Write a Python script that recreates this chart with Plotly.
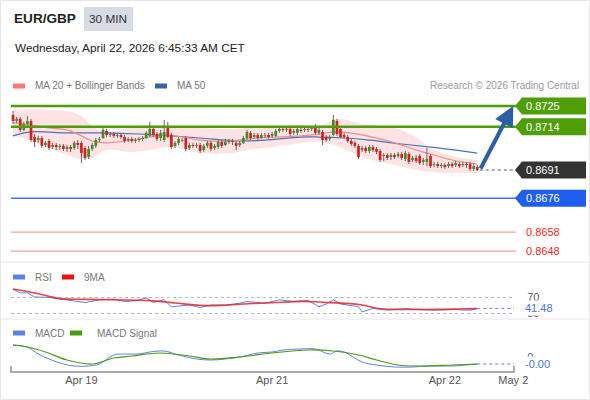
import plotly.graph_objects as go

W, H = 590, 400
FONT = "Liberation Sans, Arial, sans-serif"


def px(x):
    return x / W


def py(y):
    return 1 - y / H


# ---------------- data: 30-min candles (index 0 .. 129) ----------------
opens = [0.87202, 0.87170, 0.87181, 0.87123, 0.87154, 0.87170, 0.87085, 0.87069, 0.87080, 0.87043,
         0.87064, 0.87032, 0.87043, 0.87032, 0.87038, 0.87022, 0.87032, 0.87027, 0.87054, 0.87054,
         0.87027, 0.86979, 0.87022, 0.87038, 0.87069, 0.87080, 0.87117, 0.87096, 0.87101, 0.87091,
         0.87096, 0.87085, 0.87069, 0.87075, 0.87064, 0.87069, 0.87075, 0.87080, 0.87091, 0.87128,
         0.87101, 0.87080, 0.87069, 0.87133, 0.87096, 0.87038, 0.87054, 0.87069, 0.87080, 0.87027,
         0.87043, 0.87038, 0.87043, 0.87016, 0.87038, 0.87054, 0.87027, 0.87032, 0.87059, 0.87043,
         0.87059, 0.87064, 0.87054, 0.87043, 0.87054, 0.87080, 0.87107, 0.87085, 0.87096, 0.87080,
         0.87096, 0.87096, 0.87091, 0.87091, 0.87117, 0.87128, 0.87123, 0.87128, 0.87107, 0.87107,
         0.87123, 0.87123, 0.87128, 0.87128, 0.87138, 0.87107, 0.87112, 0.87085, 0.87075, 0.87096,
         0.87170, 0.87128, 0.87096, 0.87085, 0.87064, 0.87054, 0.87038, 0.87016, 0.87027, 0.87011,
         0.87032, 0.87022, 0.87011, 0.86985, 0.86990, 0.86979, 0.86990, 0.86985, 0.86995, 0.86969,
         0.86995, 0.86963, 0.86974, 0.86985, 0.86953, 0.86953, 0.86985, 0.86937, 0.86942, 0.86931,
         0.86937, 0.86931, 0.86942, 0.86937, 0.86942, 0.86937, 0.86942, 0.86942, 0.86916, 0.86926]
highs = [0.87223, 0.87192, 0.87192, 0.87165, 0.87197, 0.87181, 0.87101, 0.87091, 0.87091, 0.87064,
         0.87075, 0.87054, 0.87054, 0.87048, 0.87048, 0.87043, 0.87043, 0.87064, 0.87069, 0.87064,
         0.87038, 0.87038, 0.87054, 0.87080, 0.87085, 0.87133, 0.87128, 0.87112, 0.87112, 0.87107,
         0.87107, 0.87096, 0.87085, 0.87085, 0.87080, 0.87085, 0.87091, 0.87117, 0.87165, 0.87138,
         0.87112, 0.87123, 0.87176, 0.87165, 0.87107, 0.87064, 0.87085, 0.87080, 0.87091, 0.87054,
         0.87054, 0.87054, 0.87054, 0.87048, 0.87064, 0.87064, 0.87048, 0.87069, 0.87069, 0.87075,
         0.87075, 0.87075, 0.87064, 0.87064, 0.87091, 0.87123, 0.87117, 0.87107, 0.87107, 0.87107,
         0.87107, 0.87107, 0.87112, 0.87128, 0.87138, 0.87133, 0.87138, 0.87138, 0.87128, 0.87138,
         0.87133, 0.87138, 0.87138, 0.87144, 0.87154, 0.87133, 0.87123, 0.87096, 0.87096, 0.87202,
         0.87181, 0.87144, 0.87107, 0.87096, 0.87075, 0.87064, 0.87048, 0.87038, 0.87038, 0.87043,
         0.87043, 0.87032, 0.87022, 0.87000, 0.87000, 0.87000, 0.87000, 0.87006, 0.87006, 0.87011,
         0.87006, 0.86985, 0.86990, 0.86995, 0.86974, 0.87027, 0.86995, 0.86953, 0.86953, 0.86947,
         0.86947, 0.86953, 0.86953, 0.86958, 0.86953, 0.86953, 0.86953, 0.86953, 0.86942, 0.86937]
lows = [0.87154, 0.87160, 0.87112, 0.87117, 0.87144, 0.87059, 0.87032, 0.87054, 0.87027, 0.87032,
        0.87016, 0.87022, 0.87016, 0.87016, 0.87011, 0.87006, 0.87006, 0.87016, 0.87022, 0.86947,
        0.86963, 0.86969, 0.87011, 0.87027, 0.87059, 0.87075, 0.87085, 0.87085, 0.87080, 0.87080,
        0.87075, 0.87054, 0.87059, 0.87054, 0.87054, 0.87059, 0.87064, 0.87075, 0.87085, 0.87085,
        0.87064, 0.87064, 0.87059, 0.87080, 0.87022, 0.87027, 0.87043, 0.87059, 0.87011, 0.87016,
        0.87027, 0.87027, 0.87000, 0.87006, 0.87027, 0.87011, 0.87016, 0.87022, 0.87027, 0.87038,
        0.87048, 0.87043, 0.87016, 0.87032, 0.87048, 0.87069, 0.87069, 0.87075, 0.87064, 0.87075,
        0.87080, 0.87075, 0.87080, 0.87085, 0.87107, 0.87112, 0.87112, 0.87091, 0.87096, 0.87096,
        0.87107, 0.87112, 0.87112, 0.87117, 0.87101, 0.87096, 0.87043, 0.87059, 0.87064, 0.87091,
        0.87091, 0.87080, 0.87075, 0.87054, 0.87038, 0.87027, 0.86969, 0.87006, 0.87000, 0.87000,
        0.87006, 0.86995, 0.86953, 0.86958, 0.86963, 0.86963, 0.86969, 0.86974, 0.86963, 0.86958,
        0.86942, 0.86953, 0.86947, 0.86937, 0.86937, 0.86931, 0.86921, 0.86926, 0.86921, 0.86921,
        0.86916, 0.86921, 0.86921, 0.86926, 0.86921, 0.86926, 0.86921, 0.86905, 0.86905, 0.86905]
closes = [0.87170, 0.87181, 0.87123, 0.87154, 0.87170, 0.87069, 0.87059, 0.87080, 0.87038, 0.87054,
          0.87027, 0.87043, 0.87032, 0.87038, 0.87022, 0.87032, 0.87022, 0.87054, 0.87043, 0.87000,
          0.86974, 0.87022, 0.87043, 0.87069, 0.87075, 0.87123, 0.87096, 0.87101, 0.87091, 0.87096,
          0.87085, 0.87064, 0.87075, 0.87064, 0.87069, 0.87075, 0.87080, 0.87107, 0.87128, 0.87096,
          0.87075, 0.87107, 0.87112, 0.87085, 0.87032, 0.87054, 0.87075, 0.87066, 0.87022, 0.87043,
          0.87038, 0.87043, 0.87011, 0.87038, 0.87054, 0.87022, 0.87038, 0.87059, 0.87038, 0.87059,
          0.87064, 0.87059, 0.87038, 0.87054, 0.87080, 0.87112, 0.87080, 0.87096, 0.87080, 0.87096,
          0.87093, 0.87085, 0.87101, 0.87117, 0.87128, 0.87123, 0.87128, 0.87101, 0.87117, 0.87128,
          0.87117, 0.87128, 0.87123, 0.87133, 0.87107, 0.87123, 0.87069, 0.87069, 0.87085, 0.87176,
          0.87101, 0.87085, 0.87085, 0.87064, 0.87048, 0.87038, 0.86979, 0.87027, 0.87011, 0.87032,
          0.87016, 0.87006, 0.86963, 0.86990, 0.86974, 0.86990, 0.86979, 0.86995, 0.86974, 0.87000,
          0.86953, 0.86974, 0.86958, 0.86947, 0.86963, 0.86969, 0.86931, 0.86942, 0.86931, 0.86937,
          0.86926, 0.86942, 0.86931, 0.86947, 0.86931, 0.86942, 0.86937, 0.86916, 0.86931, 0.86910]
idx = list(range(len(closes)))

# moving averages / Bollinger bands, read at sampled candles
band_idx = [0, 5, 10, 15, 19, 22, 26, 33, 38, 43, 47, 52, 61, 65, 72, 80, 85, 90, 97, 106, 112, 116, 122, 129]
ma20 = [0.87160, 0.87149, 0.87133, 0.87123, 0.87091, 0.87064, 0.87054, 0.87069, 0.87085, 0.87096, 0.87085, 0.87069,
        0.87064, 0.87075, 0.87085, 0.87091, 0.87101, 0.87112, 0.87096, 0.87054, 0.87016, 0.86995, 0.86963, 0.86942]
bb_upper = [0.87229, 0.87234, 0.87229, 0.87223, 0.87197, 0.87144, 0.87112, 0.87138, 0.87149, 0.87149, 0.87138, 0.87133,
            0.87128, 0.87133, 0.87138, 0.87149, 0.87144, 0.87181, 0.87154, 0.87133, 0.87085, 0.87027, 0.86985, 0.86963]
bb_lower = [0.87091, 0.87069, 0.87027, 0.86990, 0.86969, 0.86974, 0.87016, 0.87006, 0.87016, 0.87032, 0.87022, 0.87000,
            0.87000, 0.87016, 0.87032, 0.87054, 0.87059, 0.87038, 0.86979, 0.86937, 0.86910, 0.86900, 0.86894, 0.86894]
ma50_idx = [0, 5, 15, 24, 35, 44, 52, 63, 70, 80, 85, 92, 99, 108, 118, 129]
ma50 = [0.87091, 0.87112, 0.87107, 0.87107, 0.87101, 0.87091, 0.87080, 0.87064, 0.87069, 0.87085, 0.87085, 0.87080,
        0.87069, 0.87048, 0.87027, 0.87000]

# RSI + 9MA
rsi_idx = [0, 2, 4, 6, 10, 13, 17, 20, 24, 28, 31, 34, 37, 39, 42, 44, 49, 52, 55, 59, 63, 65, 70, 74, 78, 82, 85, 87,
           89, 91, 96, 97, 100, 104, 109, 112, 117, 122, 127, 129]
rsi = [89.1, 80.4, 80.4, 70.0, 69.1, 65.7, 61.3, 56.1, 63.0, 64.8, 58.7, 60.4, 67.4, 56.1, 63.0, 45.6, 50.0, 43.9, 50.0,
       50.0, 54.3, 58.7, 54.3, 63.0, 58.7, 61.3, 45.6, 52.6, 63.0, 52.6, 45.6, 32.6, 41.3, 37.0, 41.3, 38.7, 37.0, 38.7,
       37.0, 41.48]
rsi9_idx = [0, 5, 10, 13, 20, 28, 38, 45, 52, 58, 63, 70, 75, 80, 84, 88, 93, 97, 101, 106, 111, 118, 124, 129]
rsi9 = [90, 82, 72, 66, 64, 63, 61, 55, 49, 49, 52, 55, 57, 59, 58, 56, 54, 50, 42, 39, 39, 39, 40, 41]
rsi_levels = [70, 30]

# MACD
macd_idx = [0, 4, 7, 10, 14, 17, 21, 24, 28, 31, 35, 38, 42, 46, 51, 55, 59, 63, 68, 72, 75, 80, 84, 88, 90, 92, 97,
            101, 106, 111, 116, 122, 129]
macd = [0.00048, 0.00040, 0.00012, -0.00008, -0.00028, -0.00036, -0.00036, -0.00028, 0.00008, 0.00012, 0.00012,
        0.00020, 0.00024, 0.00008, -0.00008, -0.00012, -0.00008, 0.0, 0.00016, 0.00020, 0.00028, 0.00032, 0.00032,
        0.00012, 0.00024, 0.00020, -0.00020, -0.00032, -0.00040, -0.00040, -0.00036, -0.00036, -0.00028]
sig_idx = [0, 4, 9, 15, 22, 28, 33, 41, 49, 55, 63, 72, 82, 89, 96, 101, 107, 113, 122, 129]
signal = [0.00048, 0.00040, 0.00020, -0.00012, -0.00028, -0.00004, 0.00004, 0.00016, 0.00004, -0.00008, 0.0, 0.00016,
          0.00028, 0.00024, 0.00008, -0.00012, -0.00032, -0.00036, -0.00032, -0.00028]

# key levels
res_levels = [0.8725, 0.8714]
last_price = 0.8691
pivot_level = 0.8676
sup_levels = [0.8658, 0.8648]

# time axis
tick_idx = [19, 72, 120, 139]
tick_text = ["Apr 19", "Apr 21", "Apr 22", "May 2"]
x_range = [-0.56, 139.2]

# ---------------- colours ----------------
C_UP, C_DN, C_WICK = "#3e8e26", "#d81e1e", "#666666"
C_GREEN, C_BLUE, C_DARK, C_RED = "#4f9e08", "#1f5ff0", "#333333", "#ee2a2a"
C_MA20, C_MA50, C_BAND = "#f28b8b", "#4c72b8", "#fde3e3"
C_RSI, C_RSI9, C_MACD, C_SIG = "#5b82e6", "#e82424", "#5b82e6", "#4c9a10"

fig = go.Figure()

# Bollinger band + MAs
fig.add_trace(go.Scatter(x=band_idx, y=bb_upper, mode="lines", line=dict(width=0, shape="spline"),
                         hoverinfo="skip", xaxis="x", yaxis="y"))
fig.add_trace(go.Scatter(x=band_idx, y=bb_lower, mode="lines", line=dict(width=0, shape="spline"),
                         fill="tonexty", fillcolor=C_BAND, hoverinfo="skip", xaxis="x", yaxis="y"))
fig.add_trace(go.Scatter(x=ma50_idx, y=ma50, mode="lines", line=dict(width=1.2, color=C_MA50, shape="spline"),
                         hoverinfo="skip", xaxis="x", yaxis="y"))
fig.add_trace(go.Scatter(x=band_idx, y=ma20, mode="lines", line=dict(width=1.2, color=C_MA20, shape="spline"),
                         hoverinfo="skip", xaxis="x", yaxis="y"))

# candles: wicks then bodies (all scatter, so they sit above the band fill)
wx, wy = [], []
ux, uy, dx, dy = [], [], [], []
for i, o, h, l, c in zip(idx, opens, highs, lows, closes):
    wx += [i, i, None]
    wy += [l, h, None]
    if c >= o:
        ux += [i, i, None]
        uy += [o, c, None]
    else:
        dx += [i, i, None]
        dy += [o, c, None]
fig.add_trace(go.Scatter(x=wx, y=wy, mode="lines", line=dict(width=1, color=C_WICK), hoverinfo="skip",
                         xaxis="x", yaxis="y"))
fig.add_trace(go.Scatter(x=ux, y=uy, mode="lines", line=dict(width=2.7, color=C_UP), hoverinfo="skip",
                         xaxis="x", yaxis="y"))
fig.add_trace(go.Scatter(x=dx, y=dy, mode="lines", line=dict(width=2.7, color=C_DN), hoverinfo="skip",
                         xaxis="x", yaxis="y"))

# RSI panel
fig.add_trace(go.Scatter(x=rsi_idx, y=rsi, mode="lines", line=dict(width=1, color=C_RSI), hoverinfo="skip",
                         xaxis="x2", yaxis="y2"))
fig.add_trace(go.Scatter(x=rsi9_idx, y=rsi9, mode="lines", line=dict(width=1.6, color=C_RSI9, shape="spline"),
                         opacity=0.85, hoverinfo="skip", xaxis="x2", yaxis="y2"))

# MACD panel
fig.add_trace(go.Scatter(x=macd_idx, y=macd, mode="lines", line=dict(width=1, color=C_MACD, shape="spline"),
                         hoverinfo="skip", xaxis="x3", yaxis="y3"))
fig.add_trace(go.Scatter(x=sig_idx, y=signal, mode="lines", line=dict(width=1.2, color=C_SIG, shape="spline"),
                         hoverinfo="skip", xaxis="x3", yaxis="y3"))

x_dom = [px(11), px(514)]
main_dom = [py(262), py(95)]
rsi_dom = [py(319), py(285)]
macd_dom = [py(372), py(340)]

common_x = dict(domain=x_dom, range=x_range, showgrid=False, zeroline=False, showline=False, fixedrange=True,
                automargin=False)
fig.update_layout(
    width=W, height=H, autosize=False,
    margin=dict(l=0, r=0, t=0, b=0, pad=0, autoexpand=False),
    paper_bgcolor="white", plot_bgcolor="white",
    showlegend=False, hovermode=False,
    font=dict(family=FONT, size=11, color="#555"),
    xaxis=dict(**common_x, showticklabels=False, anchor="y"),
    xaxis2=dict(**common_x, showticklabels=False, anchor="y2", matches="x"),
    xaxis3=dict(**common_x, anchor="y3", matches="x", tickmode="array", tickvals=tick_idx, ticktext=tick_text,
                ticks="", tickfont=dict(size=11, color="#555")),
    yaxis=dict(domain=main_dom, range=[0.86422, 0.87308], showgrid=False, zeroline=False, showticklabels=False,
               fixedrange=True, anchor="x", automargin=False),
    yaxis2=dict(domain=rsi_dom, range=[15, 100], anchor="x2", side="right", tickmode="array", tickvals=rsi_levels,
                showgrid=True, gridcolor="#b8b8b8", griddash="dot", gridwidth=1, zeroline=False,
                ticks="outside", ticklen=10, tickcolor="rgba(0,0,0,0)", tickfont=dict(size=11, color="#555"),
                fixedrange=True, automargin=False),
    yaxis3=dict(domain=macd_dom, range=[-0.0006, 0.00068], anchor="x3", side="right", tickmode="array",
                tickvals=[0], ticktext=["0"], showgrid=False, zeroline=False,
                ticks="outside", ticklen=10, tickcolor="rgba(0,0,0,0)", tickfont=dict(size=11, color="#555"),
                fixedrange=True, automargin=False),
)

shapes = []
# frame and panel separators
shapes.append(dict(type="rect", xref="paper", yref="paper", x0=px(0.5), x1=px(589.5), y0=py(399.5), y1=py(0.5),
                   line=dict(color="#e6e6e6", width=1), layer="below"))
for ysep in (262, 319):
    shapes.append(dict(type="line", xref="paper", yref="paper", x0=0, x1=1, y0=py(ysep), y1=py(ysep),
                       line=dict(color="#e6e6e6", width=1)))
# time-axis bracket
shapes.append(dict(type="path", xref="paper", yref="paper",
                   path=f"M {px(11)},{py(366)} L {px(11)},{py(372)} L {px(514)},{py(372)} L {px(514)},{py(366)}",
                   line=dict(color="#aaaaaa", width=2)))
# 30 MIN badge
shapes.append(dict(type="rect", xref="paper", yref="paper", x0=px(84), x1=px(133), y0=py(31), y1=py(7),
                   fillcolor="#d7dbe6", line=dict(width=0)))
# legend swatches
for (x0, yc, col) in [(13, 86, "#f87878"), (155, 86, "#3a62a8"), (13, 277, C_RSI), (62, 277, "#ee1111"),
                      (13, 333, C_MACD), (70, 333, C_SIG)]:
    shapes.append(dict(type="rect", xref="paper", yref="paper", x0=px(x0), x1=px(x0 + 12), y0=py(yc + 2.5),
                       y1=py(yc - 2.5), fillcolor=col, line=dict(width=0)))

# level lines
for lv in res_levels:
    shapes.append(dict(type="line", xref="paper", yref="y", x0=px(11), x1=px(516), y0=lv, y1=lv,
                       line=dict(color=C_GREEN, width=2.5)))
shapes.append(dict(type="line", xref="paper", yref="y", x0=px(11), x1=px(516), y0=pivot_level, y1=pivot_level,
                   line=dict(color="#4a72e8", width=1.5)))
for lv in sup_levels:
    shapes.append(dict(type="line", xref="paper", yref="y", x0=px(11), x1=px(516), y0=lv, y1=lv,
                       line=dict(color="#f4a3a3", width=1.2)))
# dotted continuation of last price / indicators
last_i = idx[-1]
shapes.append(dict(type="line", xref="x", yref="y", x0=last_i + 0.7, x1=x_range[1], y0=closes[-1], y1=closes[-1],
                   line=dict(color="#555", width=1, dash="dot")))
shapes.append(dict(type="line", xref="x2", yref="y2", x0=rsi_idx[-1], x1=x_range[1], y0=rsi[-1], y1=rsi[-1],
                   line=dict(color=C_RSI, width=1, dash="dot")))
shapes.append(dict(type="line", xref="x3", yref="y3", x0=macd_idx[-1], x1=x_range[1], y0=macd[-1], y1=macd[-1],
                   line=dict(color=C_MACD, width=1, dash="dot")))

# arrow-shaped price tags
tag_path = "M 0,0 L 7,8.5 L 71,8.5 L 71,-8.5 L 7,-8.5 Z"
for lv, col in [(res_levels[0], C_GREEN), (res_levels[1], C_GREEN), (last_price, C_DARK), (pivot_level, C_BLUE)]:
    shapes.append(dict(type="path", xref="paper", yref="y", xsizemode="pixel", ysizemode="pixel",
                       xanchor=px(515), yanchor=lv, path=tag_path, fillcolor=col, line=dict(width=0)))
fig.update_layout(shapes=shapes)

ann = []
ann.append(dict(text="<b>EUR/GBP</b>", x=px(12), y=py(19), xref="paper", yref="paper", xanchor="left",
                yanchor="middle", showarrow=False, font=dict(size=13.6, color="#222")))
ann.append(dict(text="30 MIN", x=px(108.5), y=py(19), xref="paper", yref="paper", xanchor="center",
                yanchor="middle", showarrow=False, font=dict(size=11.8, color="#333")))
ann.append(dict(text="Wednesday, April 22, 2026 6:45:33 AM CET", x=px(13), y=py(48), xref="paper", yref="paper",
                xanchor="left", yanchor="middle", showarrow=False, font=dict(size=11.8, color="#222")))
for txt, x0, yc in [("MA 20 + Bollinger Bands", 33, 86), ("MA 50", 175, 86), ("RSI", 33, 277), ("9MA", 82, 277),
                    ("MACD", 33, 333), ("MACD Signal", 95, 333)]:
    ann.append(dict(text=txt, x=px(x0), y=py(yc), xref="paper", yref="paper", xanchor="left", yanchor="middle",
                    showarrow=False, font=dict(size=10, color="#777")))
ann.append(dict(text="Research © 2026 Trading Central", x=px(581), y=py(86), xref="paper", yref="paper",
                xanchor="right", yanchor="middle", showarrow=False, font=dict(size=10, color="#9a9a9a")))
for lv in res_levels + [last_price, pivot_level]:
    ann.append(dict(text=f"{lv:.4f}", x=px(524), y=lv, xref="paper", yref="y", xanchor="left", yanchor="middle",
                    showarrow=False, font=dict(size=11, color="white")))
for lv in sup_levels:
    ann.append(dict(text=f"{lv:.4f}", x=px(524), y=lv, xref="paper", yref="y", xanchor="left", yanchor="middle",
                    showarrow=False, font=dict(size=11, color=C_RED)))
# indicator value tags
ann.append(dict(text=f"{rsi[-1]:.2f}", x=px(523), y=rsi[-1], xref="paper", yref="y2", xanchor="left",
                yanchor="middle", showarrow=False, bgcolor="white", borderpad=1, font=dict(size=11, color="#4a74e0")))
ann.append(dict(text=f"{macd[-1]:.2f}", x=px(523), y=macd[-1], xref="paper", yref="y3", xanchor="left",
                yanchor="middle", showarrow=False, bgcolor="white", borderpad=1, font=dict(size=11, color="#4a74e0")))
# forecast arrow from last close to the first resistance
ann.append(dict(x=tick_idx[-1], y=res_levels[0], xref="x", yref="y", ax=last_i + 0.7, ay=closes[-1], axref="x",
                ayref="y", showarrow=True, arrowhead=2, arrowsize=1, arrowwidth=4, arrowcolor="#2e5ea6", text=""))
fig.update_layout(annotations=ann)

fig.write_html("out.html", config={"displayModeBar": False})
